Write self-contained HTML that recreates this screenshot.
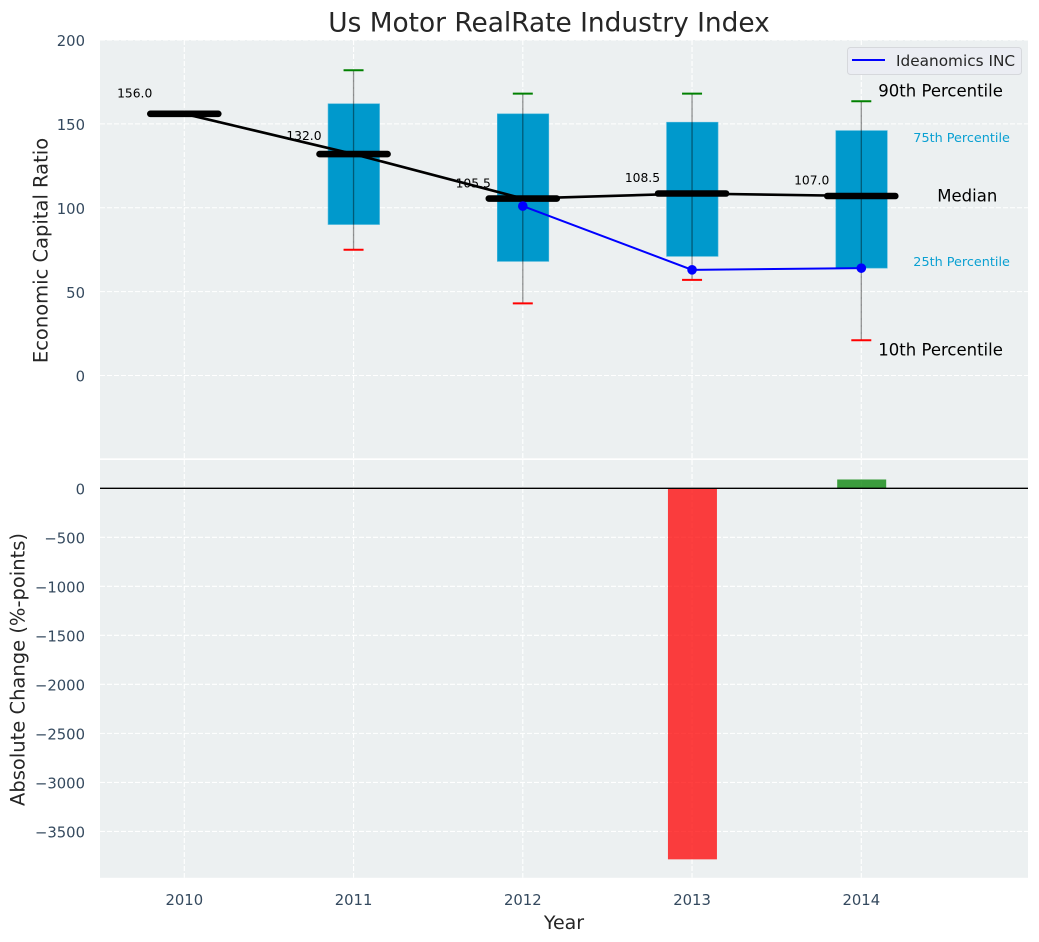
<!DOCTYPE html>
<html>
<head>
<meta charset="utf-8">
<title>Us Motor RealRate Industry Index</title>
<style>
html,body{margin:0;padding:0;background:#fff;width:1039px;height:942px;overflow:hidden}
svg{display:block;font-family:"DejaVu Sans","Liberation Sans",sans-serif}
</style>
</head>
<body>
<svg id="chart" xmlns="http://www.w3.org/2000/svg" width="1039" height="942" viewBox="0 0 1039 942">
  <text x="549" y="31.5" font-size="26.4" text-anchor="middle" fill="#262626">Us Motor RealRate Industry Index</text>
  <rect x="100" y="40" width="928" height="418.3" fill="#ecf0f1"/>
  <rect x="100" y="460" width="928" height="417.8" fill="#ecf0f1"/>
  <g id="grid"></g>
  <g id="bars"></g>
  <g id="boxes"></g>
  <g id="whiskers"></g>
  <g id="labels"></g>
  <g id="lines"></g>
  <g id="ticks"></g>
  <g id="notes"></g>
  <text transform="translate(47.5,250.5) rotate(-90)" font-size="19.5" text-anchor="middle" fill="#262626">Economic Capital Ratio</text>
  <text transform="translate(24.5,669.5) rotate(-90)" font-size="19.5" text-anchor="middle" fill="#262626">Absolute Change (%-points)</text>
  <text x="564" y="929" font-size="19" text-anchor="middle" fill="#262626">Year</text>
  <g>
    <rect x="847.5" y="47.5" width="174" height="27" rx="3" fill="#ebedf3" stroke="#d6d8dc" stroke-width="1"/>
    <line x1="852" y1="60" x2="885" y2="60" stroke="#0000ff" stroke-width="2"/>
    <text x="896" y="66" font-size="15.3" fill="#262626">Ideanomics INC</text>
  </g>
</svg>
<script>
const years = [2010, 2011, 2012, 2013, 2014];
const medians = [156, 132, 105.5, 108.5, 107];
const q75 = [null, 162, 156, 151, 146];
const q25 = [null, 90, 68, 71, 64];
const p90 = [null, 182, 168, 168, 163.5];
const p10 = [null, 75, 43, 57, 21];
const companyValues = [null, null, 101, 63, 64];
const absoluteChange = [null, null, null, -3785, 90];
const topTicks = [0, 50, 100, 150, 200];
const bottomTicks = [0, -500, -1000, -1500, -2000, -2500, -3000, -3500];

const NS = 'http://www.w3.org/2000/svg';
const xPos = v => 184.3 + (v - 2010) * 169.25;
const yTop = v => 375.5 - v * 1.6775;
const yBot = v => 488.3 - v * 0.09803;

function make(parent, tag, attrs, text) {
  const el = document.createElementNS(NS, tag);
  for (const k in attrs) el.setAttribute(k, attrs[k]);
  if (text !== undefined) el.textContent = text;
  document.getElementById(parent).appendChild(el);
  return el;
}
const gridStyle = {stroke: '#ffffff', 'stroke-width': 1.1, 'stroke-dasharray': '5 2'};
let el;

years.forEach(yr => {
  const x = xPos(yr);
  el = make('grid', 'line', Object.assign({x1: x, x2: x, y1: 40, y2: 458.3}, gridStyle));
  
  
  el = make('grid', 'line', Object.assign({x1: x, x2: x, y1: 460, y2: 877.8}, gridStyle));
  
  
  el = make('ticks', 'text', {x: x, y: 905.2, 'font-size': 14.8, 'text-anchor': 'middle', fill: '#34495e'}, String(yr));
  
  
});

topTicks.forEach(t => {
  const y = yTop(t);
  el = make('grid', 'line', Object.assign({x1: 100, x2: 1028, y1: y, y2: y}, gridStyle));
  
  
  el = make('ticks', 'text', {x: 85, y: y + 6.2, 'font-size': 14.8, 'text-anchor': 'end', fill: '#34495e'}, String(t));
  
  
});

bottomTicks.forEach(t => {
  const y = yBot(t);
  el = make('grid', 'line', Object.assign({x1: 100, x2: 1028, y1: y, y2: y}, gridStyle));
  
  
  el = make('ticks', 'text', {x: 85, y: y + 6.2, 'font-size': 14.8, 'text-anchor': 'end', fill: '#34495e'}, String(t).replace('-', '\u2212'));
  
  
});

absoluteChange.forEach((v, i) => {
  if (v === null) return;
  const x = xPos(years[i]) + 0.4;
  const a = yBot(Math.max(v, 0));
  const b = yBot(Math.min(v, 0));
  el = make('bars', 'rect', {x: x - 24.5, y: a, width: 49, height: b - a, fill: v < 0 ? '#ff0000' : '#008000', 'fill-opacity': 0.75});
  
  
});
el = make('bars', 'line', {x1: 100, x2: 1028, y1: yBot(0), y2: yBot(0), stroke: '#000000', 'stroke-width': 1.3});



years.forEach((yr, i) => {
  if (q75[i] === null) return;
  const x = xPos(yr);
  el = make('boxes', 'rect', {x: x - 25.5, y: yTop(q75[i]), width: 51.5, height: yTop(q25[i]) - yTop(q75[i]), fill: '#0099cc', stroke: '#4db8dc', 'stroke-width': 0.6});
  
  
  el = make('whiskers', 'line', {x1: x, x2: x, y1: yTop(p90[i]), y2: yTop(p10[i]), stroke: '#000000', 'stroke-opacity': 0.42, 'stroke-width': 1.3});
  
  
  el = make('whiskers', 'line', {x1: x - 10, x2: x + 10, y1: yTop(p90[i]), y2: yTop(p90[i]), stroke: '#008000', 'stroke-width': 2});
  
  
  el = make('whiskers', 'line', {x1: x - 10, x2: x + 10, y1: yTop(p10[i]), y2: yTop(p10[i]), stroke: '#ff0000', 'stroke-width': 2});
  
  
});

years.forEach((yr, i) => {
  const x = xPos(yr);
  const y = yTop(medians[i]);
  el = make('labels', 'text', {x: x - 32, y: y - medians[i] * 0.1 - 0.7, 'font-size': 12.3, 'text-anchor': 'end', fill: '#000000'}, medians[i].toFixed(1));
  
  
});

el = make('lines', 'polyline', {points: years.map((yr, i) => xPos(yr) + ',' + yTop(medians[i])).join(' '), fill: 'none', stroke: '#000000', 'stroke-width': 2.6});



years.forEach((yr, i) => {
  const x = xPos(yr);
  const y = yTop(medians[i]);
  el = make('lines', 'line', {x1: x - 34, x2: x + 34, y1: y, y2: y, stroke: '#000000', 'stroke-width': 6.6, 'stroke-linecap': 'round'});
  
  
});

const companyPts = years.map((yr, i) => companyValues[i] === null ? null : [xPos(yr), yTop(companyValues[i])]).filter(Boolean);
el = make('lines', 'polyline', {points: companyPts.map(p => p.join(',')).join(' '), fill: 'none', stroke: '#0000ff', 'stroke-width': 2});


companyPts.forEach(p => {
  el = make('lines', 'circle', {cx: p[0], cy: p[1], r: 4.8, fill: '#0000ff'});
  
  
});

const last = years.length - 1;
const noteX = xPos(years[last]);
el = make('notes', 'text', {x: noteX + 17, y: yTop(p90[last]) - 4.5, 'font-size': 16.5, fill: '#000000'}, '90th Percentile');


el = make('notes', 'text', {x: noteX + 52, y: yTop(q75[last]) + 11.5, 'font-size': 12.8, fill: '#0aa0d2'}, '75th Percentile');


el = make('notes', 'text', {x: noteX + 76, y: yTop(medians[last]) + 5.5, 'font-size': 16.5, fill: '#000000'}, 'Median');


el = make('notes', 'text', {x: noteX + 52, y: yTop(q25[last]) - 2, 'font-size': 12.8, fill: '#0aa0d2'}, '25th Percentile');


el = make('notes', 'text', {x: noteX + 17, y: yTop(p10[last]) + 15, 'font-size': 16.5, fill: '#000000'}, '10th Percentile');


</script>
</body>
</html>
